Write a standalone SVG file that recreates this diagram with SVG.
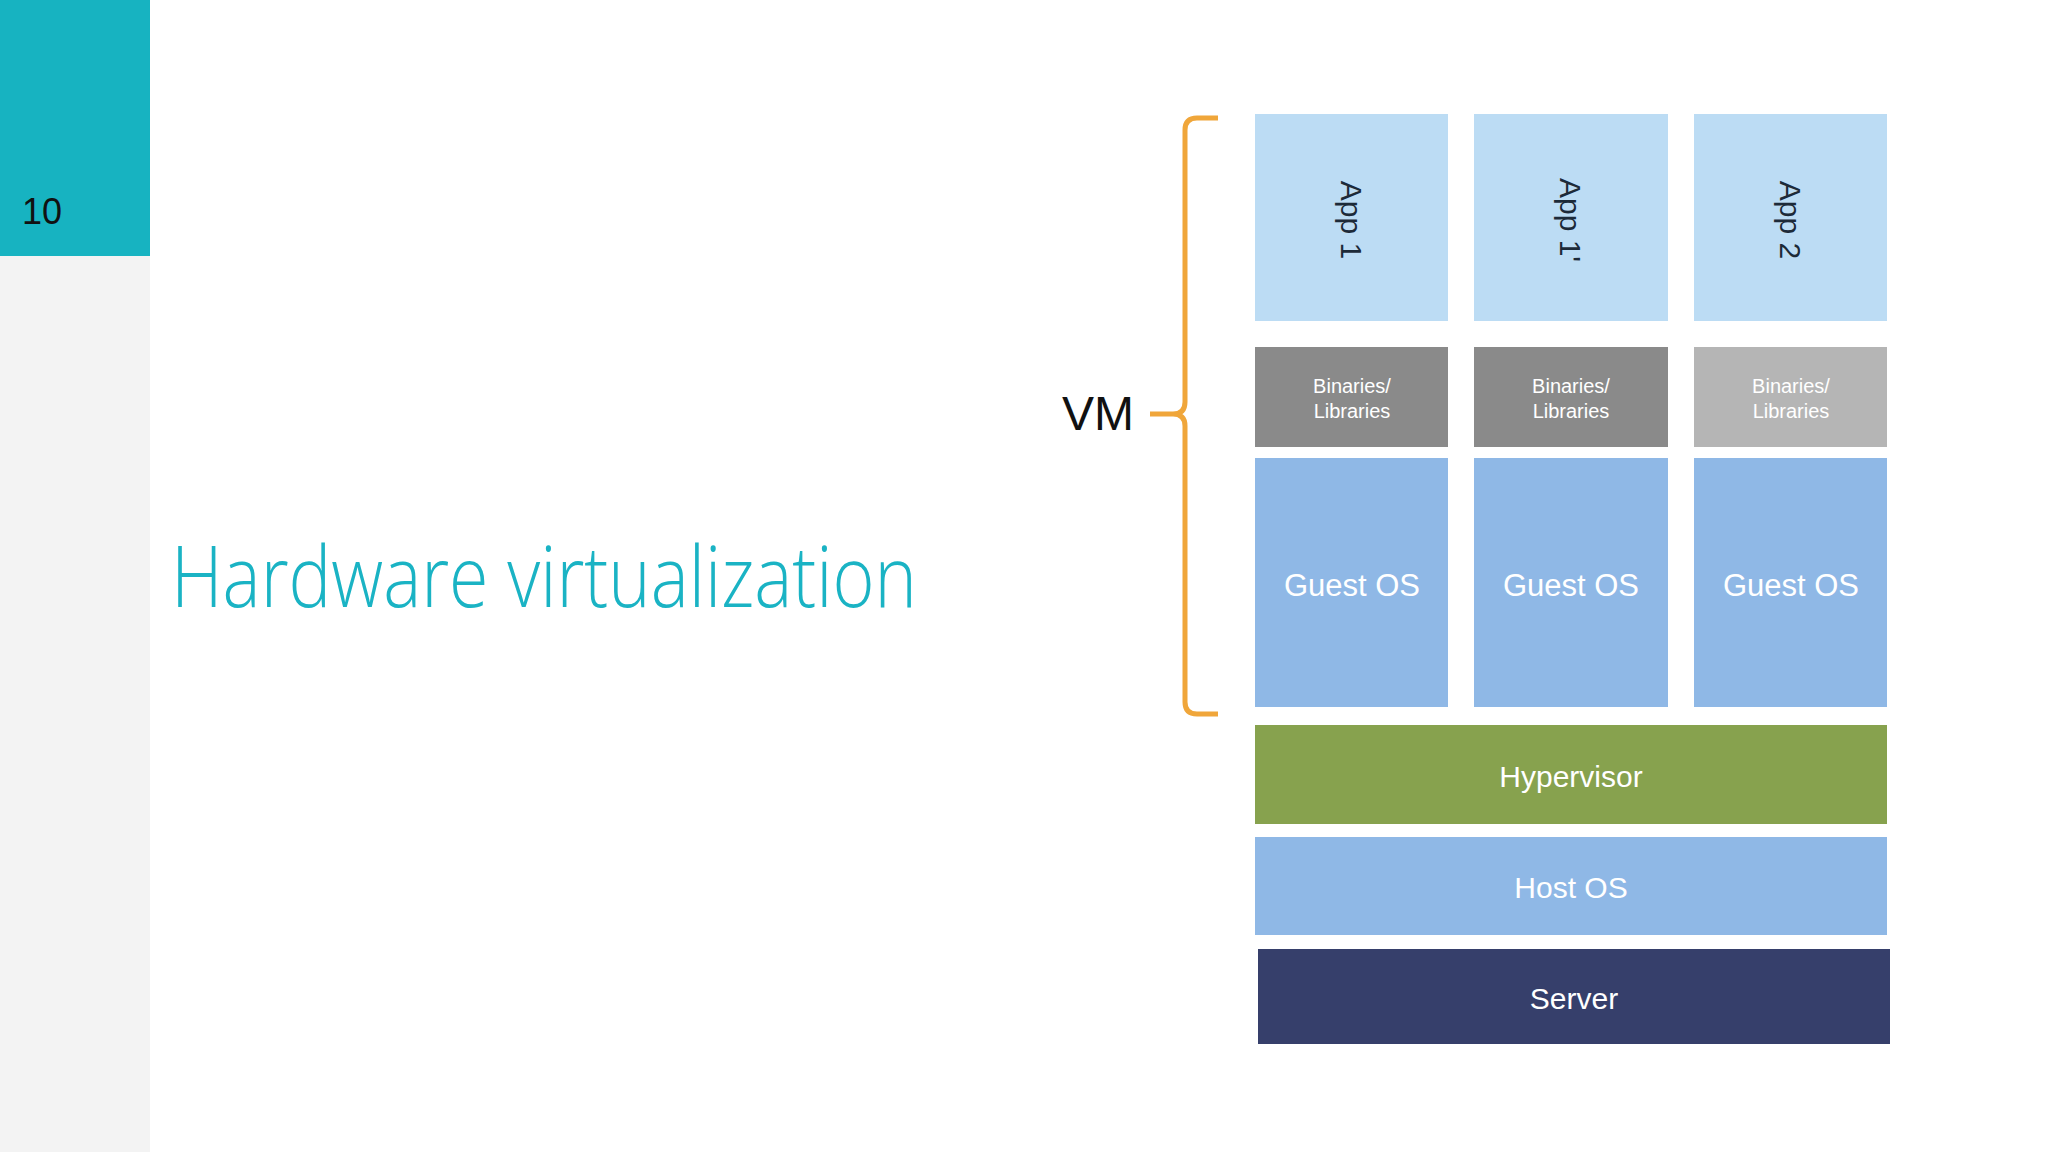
<svg xmlns="http://www.w3.org/2000/svg" width="2048" height="1152" viewBox="0 0 2048 1152">
<style>
.t{font-family:"Liberation Sans",Arial,sans-serif}
.w{fill:#fff;text-anchor:middle}
.app{fill:#bcdcf4}
.go{fill:#8fb8e6}
</style>
<rect width="2048" height="1152" fill="#fff"/>
<rect x="0" y="0" width="150" height="1152" fill="#f3f3f3"/>
<g id="pagenum"><rect x="0" y="0" width="150" height="256" fill="#17b3c1"/>
<text x="22" y="224" class="t" font-size="36" fill="#111">10</text></g>
<g id="title"><text x="171" y="607" font-family="'Open Sans',sans-serif" font-weight="300" font-size="84" fill="#1ab3c4" textLength="746" lengthAdjust="spacingAndGlyphs">Hardware virtualization</text></g>
<g id="apps">
<rect x="1255" y="114" width="193" height="207" class="app"/>
<rect x="1474" y="114" width="194" height="207" class="app"/>
<rect x="1694" y="114" width="193" height="207" class="app"/>
<text class="t" font-size="30" fill="#1d2a38" text-anchor="middle" transform="translate(1341,220) rotate(90)">App 1</text>
<text class="t" font-size="30" fill="#1d2a38" text-anchor="middle" transform="translate(1560,220) rotate(90)">App 1'</text>
<text class="t" font-size="30" fill="#1d2a38" text-anchor="middle" transform="translate(1780,220) rotate(90)">App 2</text>
</g>
<g id="bins">
<rect x="1255" y="347" width="193" height="100" fill="#8a8a8a"/>
<rect x="1474" y="347" width="194" height="100" fill="#8a8a8a"/>
<rect x="1694" y="347" width="193" height="100" fill="#b5b5b5"/>
<g class="t w" font-size="20"><text x="1352" y="393">Binaries/</text><text x="1352" y="418">Libraries</text>
<text x="1571" y="393">Binaries/</text><text x="1571" y="418">Libraries</text>
<text x="1791" y="393">Binaries/</text><text x="1791" y="418">Libraries</text></g>
</g>
<g id="guests">
<rect x="1255" y="458" width="193" height="249" class="go"/>
<rect x="1474" y="458" width="194" height="249" class="go"/>
<rect x="1694" y="458" width="193" height="249" class="go"/>
<g class="t w" font-size="31"><text x="1352" y="596">Guest OS</text><text x="1571" y="596">Guest OS</text><text x="1791" y="596">Guest OS</text></g>
</g>
<g id="hypervisor"><rect x="1255" y="725" width="632" height="99" fill="#87a24e"/><text x="1571" y="787" class="t w" font-size="30">Hypervisor</text></g>
<g id="hostos"><rect x="1255" y="837" width="632" height="98" class="go"/><text x="1571" y="898" class="t w" font-size="30">Host OS</text></g>
<g id="server"><rect x="1258" y="949" width="632" height="95" fill="#363f6b"/><text x="1574" y="1009" class="t w" font-size="30">Server</text></g>
<g id="connectors"><path d="M1218,118 H1197 Q1185,118 1185,130 V402 Q1185,414 1173,414 H1150 M1173,414 Q1185,414 1185,426 V702 Q1185,714 1197,714 H1218" fill="none" stroke="#f0a63a" stroke-width="5"/></g>
<g id="vm"><text x="1062" y="430" class="t" font-size="48" fill="#111">VM</text></g>
</svg>
